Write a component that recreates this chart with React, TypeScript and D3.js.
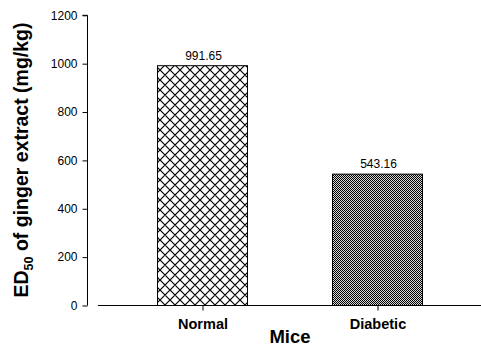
import React, { useEffect, useRef } from "react";
import * as d3 from "d3";

const categories = ["Normal", "Diabetic"];
const values = [991.65, 543.16];
const valueLabels = ["991.65", "543.16"];
const yTicks = [0, 200, 400, 600, 800, 1000, 1200];
const patterns = ["crosshatch", "checker"];

export default function App() {
  const ref = useRef<SVGSVGElement>(null);
  useEffect(() => {
    const svg = d3.select(ref.current);
    svg.selectAll("*").remove();
    const W = 481, H = 347;
    const y = d3.scaleLinear().domain([0, 1200]).range([305.5, 15.3]);
    const x = d3.scalePoint<string>().domain(categories).range([115, 465]).padding(0.5);
    const barW = 90;

    const defs = svg.append("defs");
    const p1 = defs.append("pattern").attr("id", "crosshatch").attr("patternUnits", "userSpaceOnUse")
      .attr("width", 10).attr("height", 10);
    p1.append("rect").attr("width", 10).attr("height", 10).attr("fill", "#fff");
    p1.append("path").attr("d", "M0,0L10,10M10,0L0,10M-5,5L0,10M5,-5L15,5M-5,5L5,-5M5,15L15,5")
      .attr("stroke", "#000").attr("stroke-width", 1.2).attr("fill", "none");
    const p2 = defs.append("pattern").attr("id", "checker").attr("patternUnits", "userSpaceOnUse")
      .attr("width", 2).attr("height", 2);
    p2.append("rect").attr("width", 2).attr("height", 2).attr("fill", "#d8d8d8");
    p2.append("rect").attr("width", 1).attr("height", 1).attr("fill", "#000");
    p2.append("rect").attr("x", 1).attr("y", 1).attr("width", 1).attr("height", 1).attr("fill", "#000");

    const font = "Arial, 'Liberation Sans', sans-serif";

    // bars
    categories.forEach((c, i) => {
      const cx = x(c)!;
      svg.append("rect")
        .attr("x", cx - barW / 2).attr("y", y(values[i]))
        .attr("width", barW).attr("height", y(0) - y(values[i]))
        .attr("fill", `url(#${patterns[i]})`)
        .attr("stroke", "#000").attr("stroke-width", 1);
      svg.append("text").attr("x", cx + 1).attr("y", y(values[i]) - 6)
        .attr("text-anchor", "middle").attr("font-family", font).attr("font-size", 12)
        .text(valueLabels[i]);
    });

    // y axis
    const yAxis = d3.axisLeft(y).tickValues(yTicks).tickSize(5).tickPadding(5).tickFormat(d3.format("d"));
    const gy = svg.append("g").attr("transform", "translate(87.5,0)").call(yAxis);
    gy.select(".domain").attr("d", `M-5,${y(1200)}H0V${y(0)}`).attr("stroke", "#000");
    gy.selectAll("text").attr("font-family", font).attr("font-size", 12).attr("fill", "#000");
    gy.selectAll("line").attr("stroke", "#000");

    // x axis
    const xAxis = d3.axisBottom(x).tickSize(5).tickPadding(8);
    const gx = svg.append("g").attr("transform", `translate(0,${y(0)})`).call(xAxis);
    gx.select(".domain").attr("d", `M98,0H${W}`).attr("stroke", "#000");
    gx.selectAll("text").attr("font-family", font).attr("font-size", 14.5).attr("font-weight", "bold").attr("fill", "#000");
    gx.selectAll("line").attr("stroke", "#000");

    // titles
    svg.append("text").attr("x", 290).attr("y", 343).attr("text-anchor", "middle")
      .attr("font-family", font).attr("font-size", 18.5).attr("font-weight", "bold").text("Mice");

    const yt = svg.append("text").attr("transform", `translate(28,${(13 + 307) / 2}) rotate(-90)`)
      .attr("text-anchor", "middle").attr("font-family", font).attr("font-size", 19.5).attr("font-weight", "bold");
    yt.append("tspan").text("ED");
    yt.append("tspan").attr("font-size", 12.5).attr("dy", 5).text("50");
    yt.append("tspan").attr("dy", -5).text(" of ginger extract (mg/kg)");
  }, []);
  return <svg ref={ref} width={481} height={347} style={{ position: "absolute", left: 0, top: 0 }} />;
}
